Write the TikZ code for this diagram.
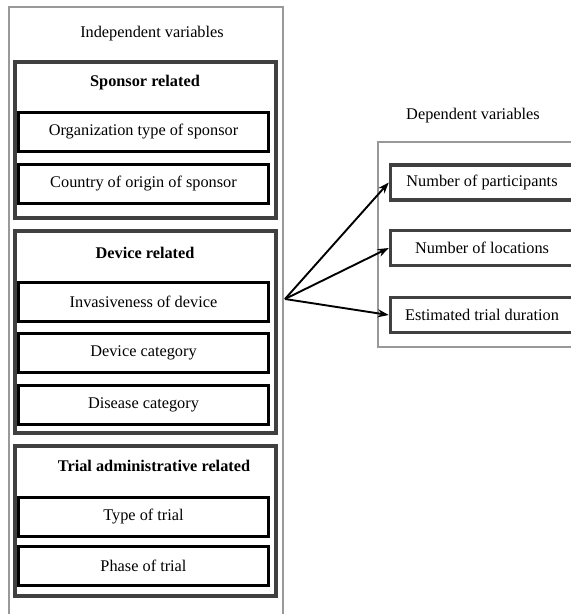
\documentclass[tikz,border=0pt]{standalone}
\usepackage{fontspec}
\setmainfont{Liberation Serif}
\usetikzlibrary{arrows.meta}

\begin{document}
\begin{tikzpicture}[x=1pt,y=-1pt,font=\fontsize{16.3}{19}\selectfont,
  framestyle/.style={draw=black!40,line width=1.5pt},
  groupstyle/.style={draw=black!75,line width=3.5pt,minimum width=261pt,inner sep=0pt},
  itemstyle/.style={draw=black,line width=3pt,minimum width=250pt,minimum height=39pt,inner sep=0pt},
  depstyle/.style={draw=black!75,line width=3.5pt,minimum width=183pt,minimum height=35pt,inner sep=0pt},
  headstyle/.style={font=\fontsize{16.3}{19}\selectfont\bfseries},
  arrowstyle/.style={-{Stealth[length=11pt,width=8pt]},line width=1.9pt}]
 \useasboundingbox (0,0) rectangle (571,614);
 \clip (0,0) rectangle (571,614);

 % frames of the two variable sets
 \draw [framestyle] (9,7) rectangle (283,630);
 \draw [framestyle] (378,142) rectangle (590,347);
 \node (indep) at (152,34) {Independent variables};
 \node (dep) at (473,116) {Dependent variables};

 % groups of independent variables
 \node [groupstyle,minimum height=156pt] (sponsor) at (145.5,140) {};
 \node [groupstyle,minimum height=202pt] (device) at (145.5,332) {};
 \node [groupstyle,minimum height=150pt] (trial) at (145.5,521) {};
 \node [headstyle] (sponsorhead) at (145,83) {Sponsor related};
 \node [headstyle] (devicehead) at (145,253) {Device related};
 \node [headstyle] (trialhead) at (154,466) {Trial administrative related};

 \foreach \name/\y/\txt in {orgtype/132/Organization type of sponsor,
                            country/183.5/Country of origin of sponsor,
                            invasive/302/Invasiveness of device,
                            devcat/353/Device category,
                            discat/404.5/Disease category,
                            trialtype/516.5/Type of trial,
                            phase/566/Phase of trial}
   \node [itemstyle] (\name) at (143.5,\y) {\txt};

 % dependent variables
 \node [depstyle] (participants) at (482,182.5) {Number of participants};
 \node [depstyle] (locations) at (482,248) {Number of locations};
 \node [depstyle] (duration) at (482,315) {Estimated trial duration};

 \coordinate (src) at (285,299);
 \foreach \target in {participants,locations,duration}
   \draw [arrowstyle] (src) -- (\target.west);
\end{tikzpicture}
\end{document}
